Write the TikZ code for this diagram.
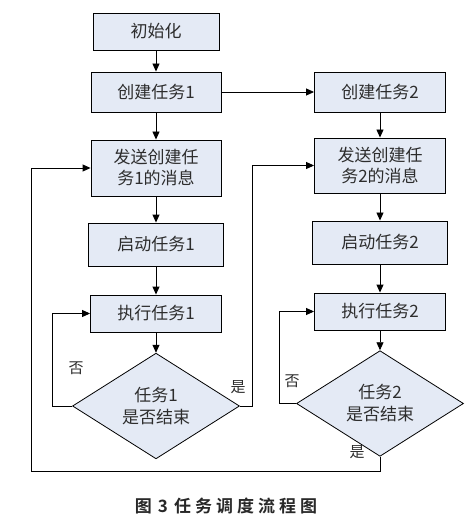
\documentclass[tikz,border=0pt]{standalone}
\usepackage{fontspec}
\newfontfamily\cjk[BoldFont={Noto Sans CJK SC Bold}]{Noto Sans CJK SC}
\usetikzlibrary{arrows.meta,shapes.geometric}
\definecolor{boxfill}{RGB}{228,234,245}
\definecolor{txt}{RGB}{45,45,45}
\tikzset{
  stepbox/.style={draw=black,line width=0.9bp,fill=boxfill,text=txt,align=center,inner sep=0pt,
    font=\cjk\fontsize{17bp}{21bp}\selectfont},
  decide/.style={diamond,draw=black,line width=0.8bp,fill=boxfill,text=txt,align=center,inner sep=0pt,
    minimum width=167bp,minimum height=84bp,font=\cjk\fontsize{17bp}{22bp}\selectfont},
  arr/.style={draw=black,line width=0.9bp,-{Triangle[length=8bp,width=7bp]}},
  lbl/.style={text=txt,inner sep=0pt,font=\cjk\fontsize{15bp}{18bp}\selectfont}
}
\begin{document}
\begin{tikzpicture}[x=1bp,y=-1bp]
\useasboundingbox[fill=white] (0,0) rectangle (471,525);
% left column
\node[stepbox,minimum width=126bp,minimum height=37bp] (init) at (156,31.5) {初始化};
\node[stepbox,minimum width=130bp,minimum height=40bp] (c1) at (156,92) {创建任务1};
\node[stepbox,minimum width=130bp,minimum height=56bp] (s1) at (156,168) {发送创建任\\务1的消息};
\node[stepbox,minimum width=135bp,minimum height=43bp] (st1) at (156,244.5) {启动任务1};
\node[stepbox,minimum width=131bp,minimum height=37bp] (e1) at (156,313.5) {执行任务1};
\node[decide] (d1) at (156,406) {任务1\\是否结束};
% right column
\node[stepbox,minimum width=131bp,minimum height=40bp] (c2) at (380,92) {创建任务2};
\node[stepbox,minimum width=131bp,minimum height=55bp] (s2) at (380,165.5) {发送创建任\\务2的消息};
\node[stepbox,minimum width=135bp,minimum height=43bp] (st2) at (380,242.5) {启动任务2};
\node[stepbox,minimum width=131bp,minimum height=37bp] (e2) at (380,311.5) {执行任务2};
\node[decide] (d2) at (380,403.5) {任务2\\是否结束};
% coordinates for loops
\coordinate (l1) at (52,406);
\coordinate (r1) at (252,406);
\coordinate (l2) at (279,403.5);
\coordinate (b2) at (380,471);
\coordinate (b1) at (31,471);
% straight arrows
\draw[arr] (init) -- (c1);
\draw[arr] (c1) -- (s1);
\draw[arr] (s1) -- (st1);
\draw[arr] (st1) -- (e1);
\draw[arr] (e1) -- (d1);
\draw[arr] (c1) -- (c2);
\draw[arr] (c2) -- (s2);
\draw[arr] (s2) -- (st2);
\draw[arr] (st2) -- (e2);
\draw[arr] (e2) -- (d2);
% loops
\draw[arr] (d1.west) -- (l1) |- (e1.west);
\draw[arr] (d1.east) -- (r1) |- (s2.west);
\draw[arr] (d2.west) -- (l2) |- (e2.west);
\draw[arr] (d2.south) -- (b2) -- (b1) |- (s1.west);
% labels
\node[lbl] (no1) at (76,368) {否};
\node[lbl] (yes1) at (238,387) {是};
\node[lbl] (no2) at (292,381) {否};
\node[lbl] (yes2) at (357,452) {是};
% caption
\node[text={rgb,255:red,40;green,40;blue,40},inner sep=0pt,font=\cjk\bfseries\fontsize{17bp}{19bp}\selectfont] (cap) at (226,506)
  {图\hspace{6bp}3\hspace{6bp}任\hspace{4bp}务\hspace{4bp}调\hspace{4bp}度\hspace{4bp}流\hspace{4bp}程\hspace{4bp}图};
\end{tikzpicture}
\end{document}
